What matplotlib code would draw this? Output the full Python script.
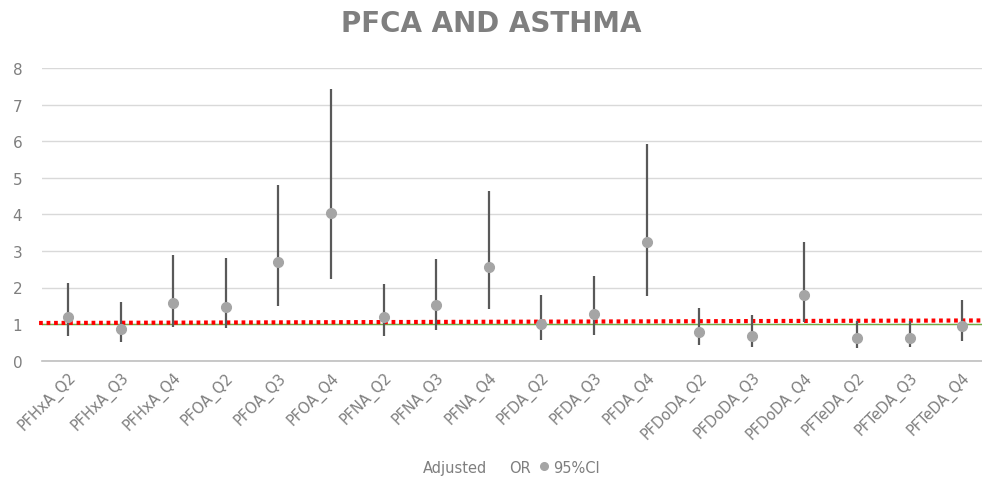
import matplotlib
matplotlib.use("Agg")
import matplotlib.pyplot as plt
from matplotlib.lines import Line2D

categories = ["PFHxA_Q2", "PFHxA_Q3", "PFHxA_Q4", "PFOA_Q2", "PFOA_Q3", "PFOA_Q4",
              "PFNA_Q2", "PFNA_Q3", "PFNA_Q4", "PFDA_Q2", "PFDA_Q3", "PFDA_Q4",
              "PFDoDA_Q2", "PFDoDA_Q3", "PFDoDA_Q4", "PFTeDA_Q2", "PFTeDA_Q3", "PFTeDA_Q4"]
odds_ratio = [1.19, 0.87, 1.58, 1.48, 2.69, 4.03, 1.19, 1.53, 2.57, 1.00, 1.28, 3.23,
              0.79, 0.68, 1.80, 0.61, 0.62, 0.94]
ci_low = [0.68, 0.50, 0.91, 0.89, 1.49, 2.23, 0.67, 0.84, 1.41, 0.57, 0.70, 1.76,
          0.43, 0.38, 1.05, 0.34, 0.37, 0.55]
ci_high = [2.11, 1.60, 2.89, 2.81, 4.80, 7.42, 2.10, 2.78, 4.65, 1.80, 2.32, 5.93,
           1.43, 1.25, 3.24, 1.08, 1.08, 1.66]
reference_line = [1.0, 1.0]
trend_line = [1.03, 1.10]
y_ticks = [0, 1, 2, 3, 4, 5, 6, 7, 8]

fig = plt.figure(figsize=(9.82, 4.81), dpi=100)
W, H = 982, 481
left_px, right_px = 41.7, 988.5
bottom_px, top_px = 361.7, 68.9
ax = fig.add_axes([left_px / W, 1 - bottom_px / H,
                   (right_px - left_px) / W, (bottom_px - top_px) / H])

x = list(range(len(categories)))
n = len(categories)

ax.set_xlim(-0.5, n - 0.5)
ax.set_ylim(0, 8)
ax.set_yticks(y_ticks)
ax.yaxis.grid(True, color="#d9d9d9", linewidth=1.0)
ax.set_axisbelow(True)
for s in ["top", "right", "left"]:
    ax.spines[s].set_visible(False)
ax.spines["bottom"].set_color("#bfbfbf")
ax.spines["bottom"].set_linewidth(1.2)
ax.tick_params(axis="both", length=0, colors="#7f7f7f", labelsize=11)
ax.tick_params(axis="y", pad=14)
ax.set_xticks(x)
ax.set_xticklabels(categories, rotation=45, ha="right", rotation_mode="anchor",
                   fontsize=10.5, color="#7f7f7f")
ax.tick_params(axis="x", pad=6)

# reference line and trend
ax.plot([-0.5, n - 0.5], reference_line, color="#70ad47", linewidth=1.0, zorder=2)
ax.plot([-0.55, n - 0.5], trend_line, color="#ff0000", linewidth=3.0,
        linestyle=(0, (0.9, 0.9)), zorder=3, clip_on=False)

# CIs
ax.vlines(x, ci_low, ci_high, color="#595959", linewidth=1.6, zorder=4)
ax.plot(x, odds_ratio, linestyle="none", marker="o", markersize=7,
        color="#a5a5a5", zorder=5)

fig.text(0.5, 0.951, "PFCA AND ASTHMA", ha="center", va="center",
         fontsize=20, fontweight="bold", color="#7f7f7f")

handles = [Line2D([], [], color="none"),
           Line2D([], [], color="none"),
           Line2D([], [], linestyle="none", marker="o", markersize=5.5, color="#a5a5a5")]
fig.legend(handles, ["Adjusted", "OR", "95%CI"], loc="center", ncol=3,
           bbox_to_anchor=(0.514, 0.027), frameon=False, fontsize=10.5,
           labelcolor="#7f7f7f", handlelength=0.6, handletextpad=0.3,
           columnspacing=0.6)

fig.savefig("out.png", dpi=100)
